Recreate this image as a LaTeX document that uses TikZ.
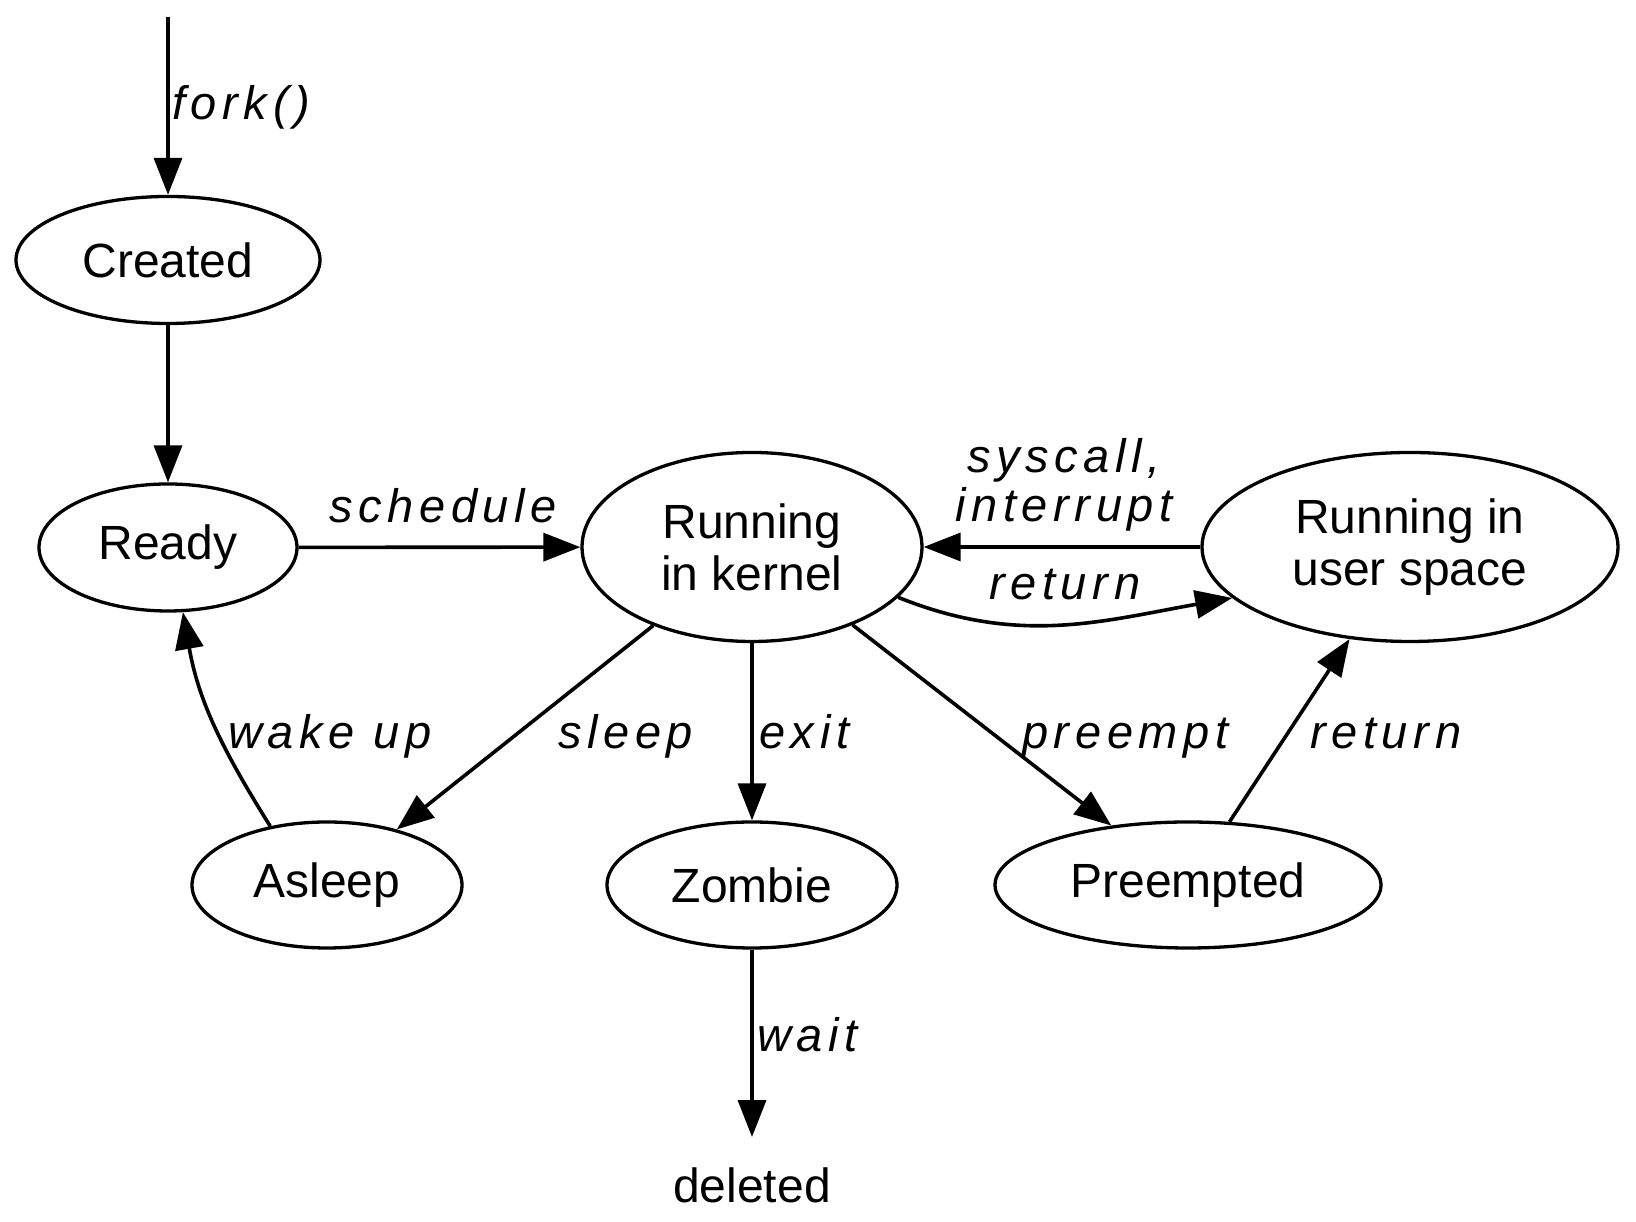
\documentclass[tikz,border=0pt]{standalone}
\usepackage{fontspec}
\setmainfont{Liberation Sans}
\newfontfamily\lblfont[LetterSpace=12]{Liberation Sans}
\usetikzlibrary{shapes.geometric,arrows.meta}
\begin{document}
\begin{tikzpicture}[x=1pt,y=1pt,
  st/.style={ellipse, draw, line width=3.3pt, inner sep=0pt, align=center,
    font=\fontsize{48}{52}\selectfont},
  lbl/.style={font=\lblfont\itshape\fontsize{47}{49}\selectfont, inner sep=0pt},
  arr/.style={line width=3.6pt, -{Triangle[length=37pt,width=28pt]}},
]
\useasboundingbox (0,0) rectangle (1636,1222);
% states
\node[st, minimum width=304pt, minimum height=127pt] (created) at (168,962) {Created};
\node[st, minimum width=258pt, minimum height=127pt] (ready) at (168,674.5) {Ready};
\node[st, minimum width=340pt, minimum height=189pt] (kern) at (752,675) {Running\\in kernel};
\node[st, minimum width=416pt, minimum height=189pt] (user) at (1410,675) {Running in\\user space};
\node[st, minimum width=270pt, minimum height=126pt] (asleep) at (327,337) {Asleep};
\node[st, minimum width=290pt, minimum height=126pt] (zombie) at (752,337) {Zombie};
\node[st, minimum width=386pt, minimum height=126pt] (preempted) at (1188,337) {Preempted};
\node[font=\fontsize{48}{52}\selectfont, inner xsep=0pt, inner ysep=31pt, anchor=base] (deleted) at (752,19) {deleted};
\coordinate (start) at (168,1205);
% edges
\draw[arr] (start) -- (created);
\draw[arr] (created) -- (ready);
\draw[arr] (ready) -- (kern);
\draw[arr] (user) -- (kern);
\draw[arr] (kern.-19) to[out=-22,in=-170] (user.-164);
\draw[arr] (kern) -- (asleep);
\draw[arr] (kern) -- (zombie);
\draw[arr] (kern) -- (preempted);
\draw[arr] (preempted) -- (user);
\draw[arr] (asleep.134.5) to[out=122,in=-80] (ready.-77);
\draw[arr] (zombie) -- (deleted);
% labels
\node[lbl, anchor=base west] (lfork) at (172,1102) {fork()};
\node[lbl, anchor=base west] (lsched) at (329,699) {schedule};
\node[lbl, anchor=center, align=center] (lsys) at (1064,737.4) {syscall,\\interrupt};
\node[lbl, anchor=base west] (lret) at (989,622) {return};
\node[lbl, anchor=base west] (lwake) at (228,473) {wake up};
\node[lbl, anchor=base west] (lsleep) at (558,473) {sleep};
\node[lbl, anchor=base west] (lexit) at (759,473) {exit};
\node[lbl, anchor=base west] (lpre) at (1022,473) {preempt};
\node[lbl, anchor=base west] (lret2) at (1310,473) {return};
\node[lbl, anchor=base west] (lwait) at (757,170) {wait};
\end{tikzpicture}
\end{document}
